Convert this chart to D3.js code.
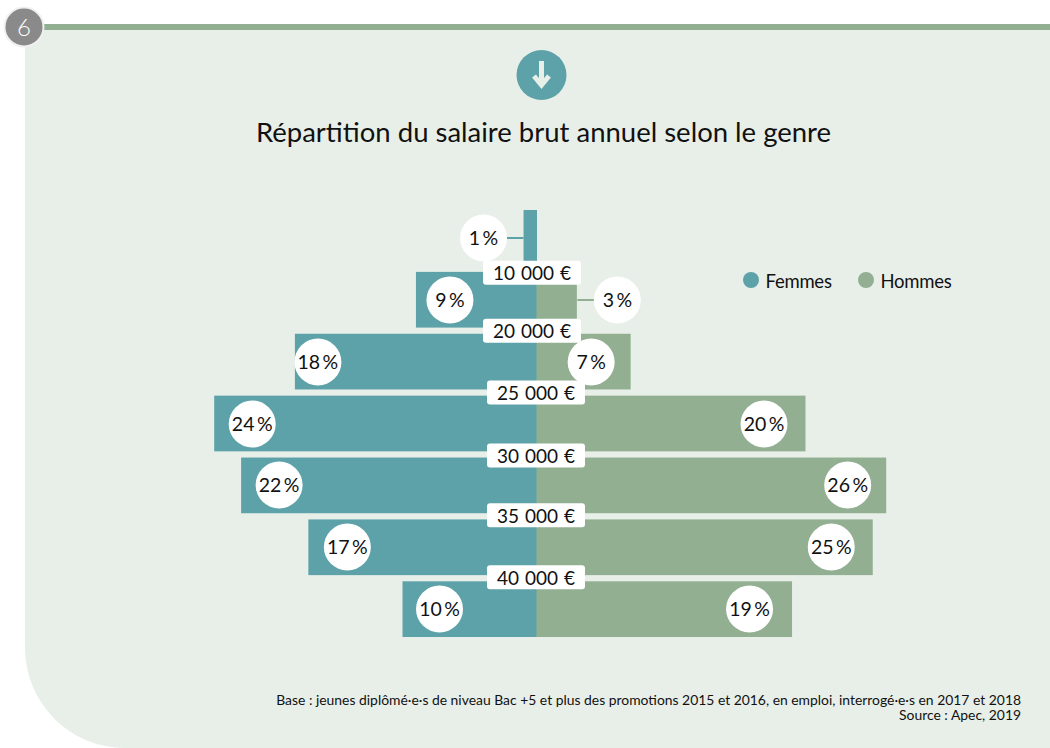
<!doctype html>
<html>
  <head>
    <meta charset="utf-8">
    <title>Salaire</title>
    <script src="https://d3js.org/d3.v7.min.js"></script>
    <style>
      html, body { margin: 0; background: #fff; }
      svg { display: block; }
      text { font-family: Lato, sans-serif; fill: #111; }
    </style>
  </head>
  <body>
    <script>
      // valeurs
      const bands = ['<10', '10-20', '20-25', '25-30', '30-35', '35-40', '>40'];
      const femmes = [1, 9, 18, 24, 22, 17, 10];
      const hommes = [0, 3, 7, 20, 26, 25, 19];
      const ticks = ['10 000 €', '20 000 €', '25 000 €', '30 000 €', '35 000 €', '40 000 €'];
      const legendItems = ['Femmes', 'Hommes'];
      const notes = [
        'Base : jeunes diplômé·e·s de niveau Bac +5 et plus des promotions 2015 et 2016, en emploi, interrogé·e·s en 2017 et 2018',
        'Source : Apec, 2019'
      ];

      const width = 1050;
      const height = 748;
      const teal = '#5ea2a9';
      const green = '#92af91';
      const panel = '#e8efe9';

      const svg = d3.select('body').append('svg')
          .attr('width', width)
          .attr('height', height);

      // fond
      svg.append('path')
          .attr('d', 'M25,28 H1050 V748 H125 A100,100 0 0 1 25,648 Z')
          .attr('fill', panel);
      svg.append('rect')
          .attr('x', 40).attr('y', 24)
          .attr('width', 1010).attr('height', 6)
          .attr('fill', green);

      // pastille numero
      svg.append('circle')
          .attr('cx', 24).attr('cy', 27).attr('r', 19.5)
          .attr('fill', '#8a8a8a')
          .attr('stroke', '#f0f0f0').attr('stroke-width', 2);
      svg.append('text')
          .attr('x', 24).attr('y', 36)
          .attr('text-anchor', 'middle')
          .attr('font-size', 24)
          .style('fill', '#fff')
          .style('font-weight', 300)
          .text('6');

      // fleche
      svg.append('circle')
          .attr('cx', 541.5).attr('cy', 75).attr('r', 25)
          .attr('fill', teal);
      svg.append('path')
          .attr('d', 'M541.5,61 V85 M534,76 L541.5,85 L549,76')
          .attr('fill', 'none')
          .attr('stroke', panel)
          .attr('stroke-width', 5);

      // titre
      svg.append('text')
          .attr('x', 543.5).attr('y', 142)
          .attr('text-anchor', 'middle')
          .attr('font-size', 27.5)
          .text('Répartition du salaire brut annuel selon le genre');

      // echelles
      const x = d3.scaleLinear().domain([0, 1]).range([0, 13.45]);
      const y = d3.scaleBand()
          .domain(bands)
          .range([210, 637])
          .paddingInner(0.1);
      const cx = 537;

      // barres
      svg.append('g').selectAll('rect')
          .data(femmes)
          .join('rect')
          .attr('x', d => cx - x(d))
          .attr('y', (d, i) => y(bands[i]))
          .attr('width', d => x(d))
          .attr('height', y.bandwidth())
          .attr('fill', teal);
      svg.append('g').selectAll('rect')
          .data(hommes)
          .join('rect')
          .attr('x', cx - 0.5)
          .attr('y', (d, i) => y(bands[i]))
          .attr('width', d => x(d))
          .attr('height', y.bandwidth())
          .attr('fill', green);

      // bulles : decalage depuis le bout de la barre
      const bubbleF = [-40, 34, 23, 38, 38, 39, 37];
      const bubbleH = [null, 40, -40, -42, -39, -42, -43];

      function bubble(v, i, px, color, outside) {
        const cy = Math.round(y(bands[i]) + y.bandwidth() / 2);
        if (outside) {
          svg.append('line')
              .attr('x1', px).attr('x2', outside)
              .attr('y1', cy).attr('y2', cy)
              .attr('stroke', color).attr('stroke-width', 2);
        }
        svg.append('circle')
            .attr('cx', px).attr('cy', cy).attr('r', 23.5)
            .attr('fill', '#fff');
        svg.append('text')
            .attr('x', px).attr('y', cy + 7)
            .attr('text-anchor', 'middle')
            .attr('font-size', 19.5)
            .text(v + '\u2009%');
      }

      femmes.forEach((v, i) => {
        const end = cx - x(v);
        bubble(v, i, end + bubbleF[i], teal, bubbleF[i] < 0 ? end : null);
      });
      hommes.forEach((v, i) => {
        if (!v) return;
        const end = cx + x(v);
        bubble(v, i, end + bubbleH[i], green, bubbleH[i] > 0 ? end : null);
      });

      // etiquettes de salaire
      const tickNudgeY = [4, 0, 0, 1, -1, -1];
      const tickNudgeX = [-5, -5, -1, -1, -1, -1];
      ticks.forEach((t, i) => {
        const yy = y(bands[i + 1]) - y.step() * y.paddingInner() / 2 + tickNudgeY[i];
        const xx = cx + tickNudgeX[i];
        svg.append('rect')
            .attr('x', xx - 49).attr('y', yy - 12)
            .attr('width', 98).attr('height', 24)
            .attr('rx', 3)
            .attr('fill', '#fff');
        svg.append('text')
            .attr('x', xx).attr('y', yy + 7.5)
            .attr('text-anchor', 'middle')
            .attr('font-size', 19)
            .attr('word-spacing', 1)
            .text(t);
      });

      // legende
      const legendX = [751, 866];
      legendItems.forEach((t, i) => {
        svg.append('circle')
            .attr('cx', legendX[i]).attr('cy', 280).attr('r', 8)
            .attr('fill', i ? green : teal);
        svg.append('text')
            .attr('x', legendX[i] + 14.5).attr('y', 288)
            .attr('font-size', 18.5)
            .attr('letter-spacing', -0.25)
            .text(t);
      });

      // notes
      svg.append('text')
          .attr('text-anchor', 'end')
          .attr('font-size', 13.9)
        .selectAll('tspan')
        .data(notes)
        .join('tspan')
          .attr('x', 1021)
          .attr('y', (d, i) => 705 + i * 15)
          .text(d => d);
    </script>
  </body>
</html>
